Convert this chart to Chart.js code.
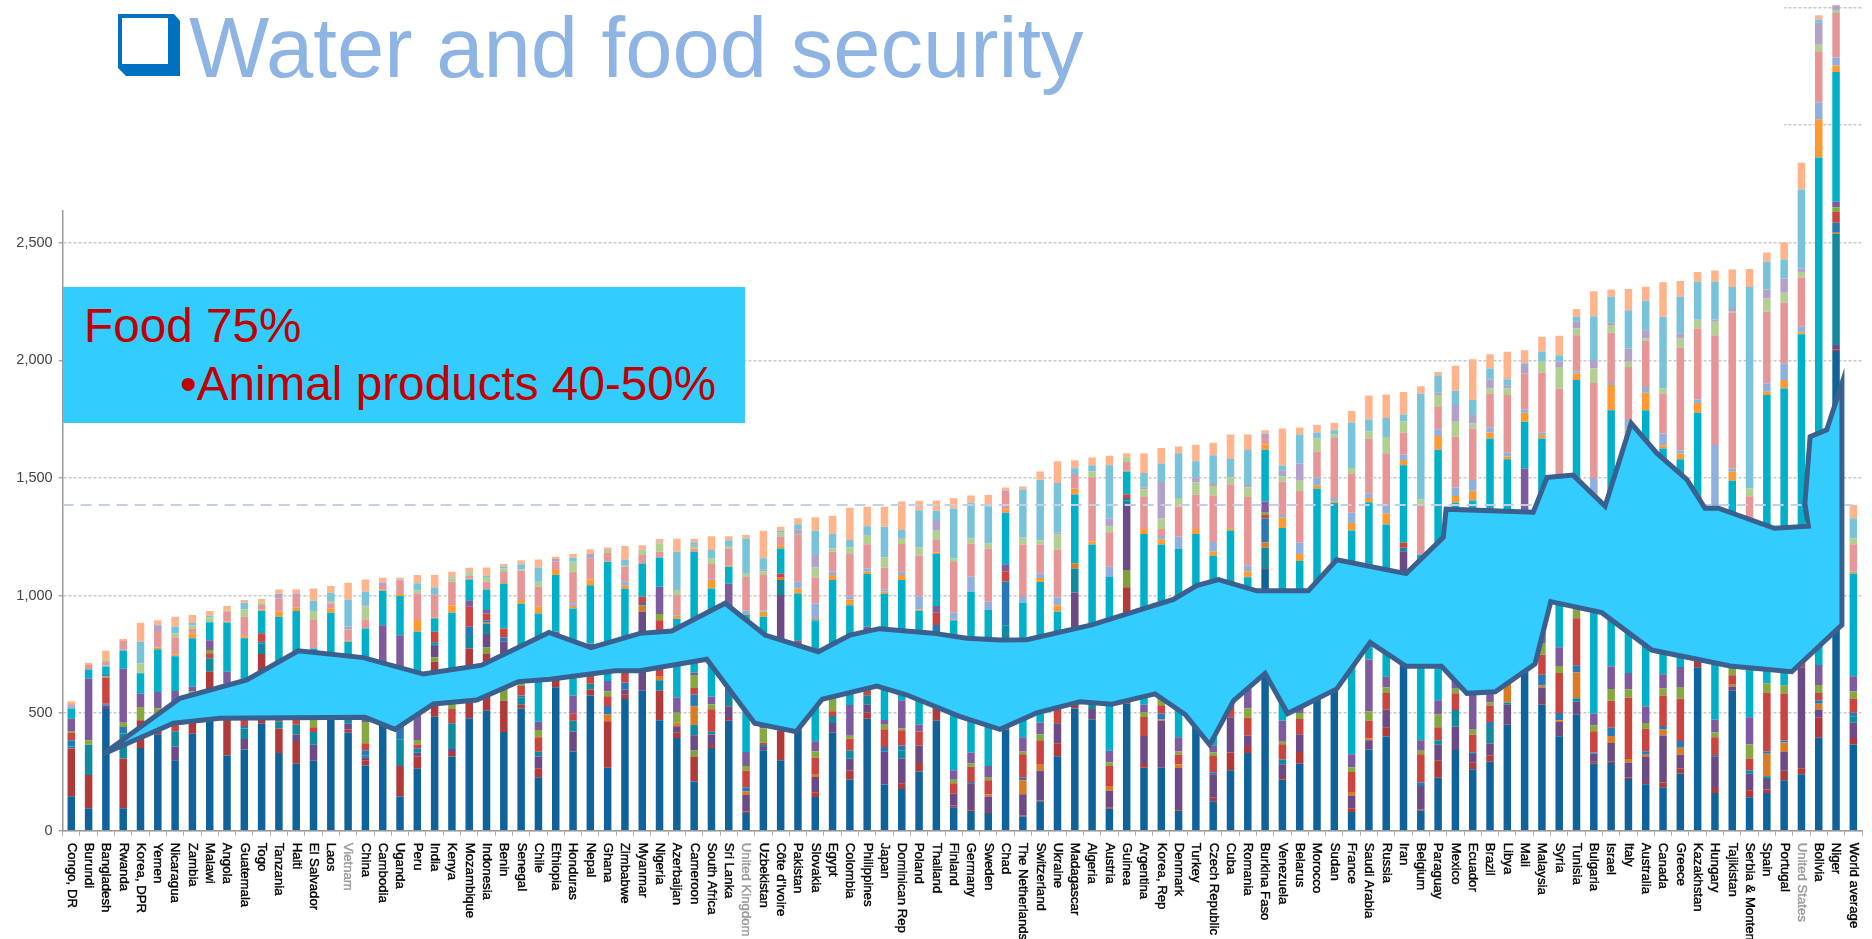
<!DOCTYPE html>
<html>
<head>
<meta charset="utf-8">
<title>Water and food security</title>
<script src="https://cdn.jsdelivr.net/npm/chart.js@4"></script>
<style>
  html, body { margin: 0; padding: 0; background: #fff; overflow: hidden; }
  #wrap { position: relative; width: 1872px; height: 939px; overflow: hidden; font-family: "Liberation Sans", Arial, sans-serif; }
  #chart { position: absolute; left: 0; top: 0; filter: blur(0.6px); }
  #title { position: absolute; left: 189px; top: -1px; font-size: 85px; line-height: 98px; color: #8eb4e3; white-space: nowrap; }
  #bullet { position: absolute; left: 118px; top: 14px; }
  #box { position: absolute; left: 63px; top: 287px; width: 682px; height: 136px; background: #33ccff; color: #c00000; font-size: 47.7px; }
  #box div { position: absolute; white-space: nowrap; line-height: 54px; }
</style>
</head>
<body>
<div id="wrap">
  <canvas id="chart" width="1872" height="939"></canvas>
  <svg id="bullet" width="62" height="62" viewBox="0 0 62 62">
    <path d="M0 0H56L62 7V62H8L0 54Z" fill="#0070c0"/>
    <rect x="4" y="4" width="46" height="46" fill="#fff"/>
  </svg>
  <div id="title">Water and food security</div>
  <div id="box">
    <div style="left:21px;top:12px">Food 75%</div>
    <div style="left:117px;top:70px">•Animal products 40-50%</div>
  </div>
</div>
<script>
const countries = ['Congo, DR','Burundi','Bangladesh','Rwanda','Korea, DPR','Yemen','Nicaragua','Zambia','Malawi','Angola',
  'Guatemala','Togo','Tanzania','Haiti','El Salvador','Laos','Vietnam','China','Cambodia','Uganda',
  'Peru','India','Kenya','Mozambique','Indonesia','Benin','Senegal','Chile','Ethiopia','Honduras',
  'Nepal','Ghana','Zimbabwe','Myanmar','Nigeria','Azerbaijan','Cameroon','South Africa','Sri Lanka','United Kingdom',
  'Uzbekistan',"Côte d'Ivoire",'Pakistan','Slovakia','Egypt','Colombia','Philippines','Japan','Dominican Rep','Poland',
  'Thailand','Finland','Germany','Sweden','Chad','The Netherlands','Switzerland','Ukraine','Madagascar','Algeria',
  'Austria','Guinea','Argentina','Korea, Rep','Denmark','Turkey','Czech Republic','Cuba','Romania','Burkina Faso',
  'Venezuela','Belarus','Morocco','Sudan','France','Saudi Arabia','Russia','Iran','Belgium','Paraguay',
  'Mexico','Ecuador','Brazil','Libya','Mali','Malaysia','Syria','Tunisia','Bulgaria','Israel',
  'Italy','Australia','Canada','Greece','Kazakhstan','Hungary','Tajikistan','Serbia & Montenegro','Spain','Portugal',
  'United States','Bolivia','Niger','World average'];
const greyLabels = ['Vietnam','United Kingdom','United States'];
const yTickValues = [0, 500, 1000, 1500, 2000, 2500, 3000, 3500];

// stacked segments, bottom to top, named after their colour
const darkBlue = [147,95,517,95,352,410,300,412,480,320,
  345,455,330,285,297,500,418,277,500,145,
  263,485,315,478,510,420,520,227,610,337,
  575,268,560,595,470,394,209,352,467,75,
  342,300,430,143,416,218,476,196,177,252,
  467,100,85,75,430,60,125,317,520,472,
  93,540,268,268,85,490,125,257,330,1108,
  218,285,560,600,80,345,400,700,85,225,
  343,261,293,450,690,535,402,493,285,288,
  220,198,185,243,695,160,595,142,160,215,
  240,395,2040,367];
const darkRed = [203,142,0,212,118,70,0,70,196,160,
  0,296,105,92,0,80,12,23,90,130,
  52,233,20,297,241,133,15,38,40,0,
  25,197,20,0,125,25,107,12,12,7,
  0,125,100,20,0,38,25,0,25,40,
  50,7,7,5,120,5,5,55,300,0,
  7,495,20,0,7,100,15,75,30,5,
  10,50,100,150,15,0,40,200,5,75,
  0,28,28,0,150,8,0,0,8,5,
  5,5,20,20,30,22,0,30,15,40,
  25,85,5,27];
const darkGreen = [0,0,0,0,0,0,0,0,0,0,
  0,0,0,0,0,0,0,0,0,0,
  0,19,0,0,28,100,0,0,0,0,
  0,0,0,0,0,0,25,0,0,0,
  0,60,0,0,0,0,0,0,0,0,
  0,0,0,0,0,0,0,0,30,0,
  0,73,0,0,0,0,0,0,0,0,
  0,0,0,0,0,0,0,0,0,0,
  0,0,0,0,0,0,0,0,0,0,
  0,0,0,0,0,0,0,0,0,0,
  0,0,0,0];
const darkPurple = [0,0,15,0,0,0,58,0,0,0,
  45,0,0,32,68,0,25,12,0,0,
  16,48,12,0,57,150,0,50,40,85,
  0,0,20,336,0,25,65,45,50,70,
  14,517,0,65,42,50,35,140,105,70,
  60,50,110,65,100,90,125,85,163,45,
  70,277,115,200,175,120,100,150,45,0,
  55,75,100,150,55,40,75,288,100,65,
  99,37,50,85,200,65,60,55,35,80,
  65,110,200,60,200,135,18,70,45,80,
  430,35,20,65];
const darkTeal = [8,128,3,106,0,15,65,50,57,80,
  45,45,30,42,55,50,40,8,60,112,
  12,8,110,57,45,0,30,21,20,45,
  25,0,0,0,45,0,45,12,40,0,
  8,64,80,0,30,35,40,0,35,0,
  100,0,0,0,224,0,0,0,102,100,
  0,20,0,0,0,0,0,0,0,90,
  20,0,0,0,0,0,0,15,0,20,
  71,0,70,10,0,2,0,15,5,0,
  0,0,0,0,0,5,0,15,12,0,
  0,0,474,25];
const darkOrange = [0,0,0,0,0,0,0,0,0,0,
  0,0,0,0,0,0,0,0,0,0,
  0,0,0,0,5,0,0,0,0,0,
  0,30,0,28,15,15,78,0,0,15,
  0,10,0,10,0,0,0,0,0,0,
  0,0,0,10,0,60,25,0,22,0,
  20,0,0,5,15,0,0,0,0,22,
  0,0,0,0,15,8,0,0,0,0,
  0,0,0,80,0,8,8,110,0,30,
  15,10,25,30,0,0,8,0,95,40,
  0,25,7,0];
const blue = [27,0,5,28,0,0,0,0,0,0,
  10,7,0,0,0,0,0,22,10,60,
  8,8,0,35,8,18,10,0,0,0,
  0,35,30,9,0,0,50,0,100,18,
  0,0,0,0,0,0,0,20,20,0,
  198,0,5,0,186,10,0,0,0,0,
  0,10,0,25,0,0,8,0,0,102,
  0,0,0,0,0,0,0,0,15,0,
  0,8,21,0,0,45,30,30,0,35,
  0,15,15,28,0,0,0,0,10,8,
  0,15,39,18];
const red = [31,0,110,0,0,0,60,40,21,50,
  80,36,60,50,20,40,50,30,20,50,
  15,45,60,85,30,39,40,61,40,30,
  50,42,60,27,240,0,28,95,100,70,
  10,16,80,72,20,50,100,75,65,60,
  52,45,65,60,43,100,105,100,0,100,
  85,15,80,35,42,100,70,100,75,15,
  65,65,100,100,85,75,70,22,120,55,
  71,74,70,0,200,85,170,200,90,115,
  260,95,130,180,200,75,40,50,250,200,
  200,30,46,60];
const green = [8,20,6,18,56,25,25,20,14,16,
  40,0,40,0,50,20,40,90,20,30,
  20,0,40,0,0,0,30,31,20,0,
  40,20,40,0,26,42,55,21,100,20,
  61,0,40,28,100,13,60,20,8,0,
  0,15,15,10,0,12,25,60,0,60,
  15,0,22,30,13,40,15,60,40,10,
  10,25,60,50,20,40,25,0,15,55,
  20,21,14,0,100,50,30,100,25,50,
  35,25,30,50,100,20,80,60,40,35,
  100,35,20,30];
const purple = [52,262,6,230,56,70,86,20,42,50,
  82,0,100,100,100,30,60,60,174,304,
  110,0,126,28,14,0,50,35,76,78,
  80,45,95,0,116,65,10,33,182,60,
  100,0,80,42,160,130,131,20,120,30,
  28,40,45,50,30,60,50,100,0,104,
  50,0,30,100,60,190,30,200,80,48,
  90,100,122,95,55,220,45,0,45,60,
  80,155,60,0,200,100,80,100,50,95,
  70,70,60,85,200,55,100,115,0,0,
  200,85,23,65];
const cyan = [44,38,35,75,87,181,148,206,76,209,
  171,96,245,333,185,207,158,338,146,167,
  350,57,244,88,88,191,271,461,241,370,
  249,506,205,141,125,335,514,460,71,582,
  375,108,199,515,298,425,224,538,511,483,
  221,638,684,663,219,572,597,215,292,336,
  739,97,726,554,803,221,806,434,478,220,
  819,547,412,248,951,668,647,329,788,1065,
  710,820,1062,954,199,770,520,813,922,1090,
  1010,1260,960,883,352,905,647,700,1225,1262,
  916,2157,552,437];
const orange = [0,0,0,0,0,8,6,20,0,5,
  7,5,22,14,0,18,5,0,5,8,
  50,3,32,3,2,6,15,28,21,10,
  24,3,14,2,0,15,3,36,6,4,
  21,14,21,5,21,24,10,8,21,5,
  6,4,0,0,15,0,17,27,25,12,
  0,3,22,22,0,22,19,10,25,22,
  45,29,15,8,32,19,47,22,0,58,
  29,41,25,11,38,14,0,28,15,107,
  25,74,14,25,42,0,38,5,14,36,
  8,163,28,7];
const lightBlue = [7,0,5,5,0,0,0,0,0,0,
  0,0,0,0,0,0,0,0,0,0,
  0,0,0,0,0,0,0,0,0,10,
  0,0,14,0,0,5,0,3,0,15,
  5,0,28,66,15,14,14,10,14,57,
  0,28,64,35,0,29,19,32,0,0,
  43,0,0,14,50,0,40,0,24,0,
  10,48,33,14,44,18,36,22,0,29,
  36,46,21,17,14,10,0,8,65,9,
  41,25,50,14,14,263,14,0,36,71,
  24,71,33,3];
const pink = [8,20,15,38,0,70,75,20,0,43,
  85,20,55,50,121,22,45,38,20,59,
  113,95,99,12,30,43,125,85,35,136,
  90,35,64,34,24,81,10,65,72,143,
  151,36,199,111,84,179,103,92,118,172,
  54,216,141,227,73,219,124,205,58,274,
  147,38,139,30,128,146,197,187,292,28,
  142,220,110,255,165,235,220,94,212,95,
  216,219,145,245,153,255,580,155,404,213,
  226,196,170,436,302,467,662,235,304,258,
  209,218,190,114];
const lightGreen = [0,0,10,0,42,0,15,15,20,2,
  31,10,0,0,38,6,5,56,0,0,
  13,0,15,10,21,15,5,21,0,42,
  0,8,5,21,35,21,12,24,10,14,
  15,20,5,42,15,28,39,43,25,35,
  39,14,21,21,0,30,18,63,0,24,
  25,20,30,44,37,51,41,30,40,0,
  23,44,56,15,25,30,69,49,23,50,
  64,21,21,28,0,47,92,28,61,33,
  22,10,21,39,33,57,5,33,57,42,
  24,28,12,25];
const lavender = [4,0,0,0,0,25,0,0,0,0,
  0,0,20,10,0,0,10,5,10,3,
  0,4,0,0,0,0,0,0,12,0,
  20,3,0,2,4,0,5,0,0,0,
  8,0,20,53,0,0,0,0,0,0,
  42,0,0,0,5,0,0,8,5,0,
  33,2,8,156,0,22,12,0,15,18,
  23,73,0,0,0,0,0,0,0,10,
  71,36,38,14,36,0,22,29,36,10,
  56,35,0,20,6,10,15,0,38,61,
  14,93,21,0];
const lightCyan = [0,0,0,0,92,0,30,10,8,0,
  28,0,0,0,44,39,115,57,0,0,
  30,29,5,5,5,8,22,61,0,18,
  0,0,25,0,0,163,10,35,25,149,
  48,6,21,103,60,32,38,130,34,159,
  43,213,152,159,0,204,257,211,24,27,
  227,0,61,78,190,69,118,77,145,0,
  23,124,25,18,194,50,81,29,450,75,
  61,64,47,25,7,43,28,21,186,110,
  163,125,305,157,160,160,90,857,118,81,
  336,14,0,85];
const peach = [11,9,38,8,81,21,42,34,20,20,
  12,15,19,19,52,28,71,52,20,7,
  35,53,23,20,35,11,17,34,10,15,
  19,12,58,19,15,55,15,59,17,15,
  117,16,25,58,78,137,82,85,122,40,
  44,43,31,47,14,12,35,93,34,33,
  40,15,84,66,29,70,53,105,66,15,
  157,29,32,32,48,102,100,95,32,13,
  106,174,61,117,56,63,82,33,107,31,
  90,60,147,67,42,48,74,76,39,72,
  114,18,0,57];

const stackSeries = [
  ['darkBlue', darkBlue, '#10639a'], ['darkRed', darkRed, '#b03a3a'], ['darkGreen', darkGreen, '#7fa13c'],
  ['darkPurple', darkPurple, '#6b4a86'], ['darkTeal', darkTeal, '#0f8a9e'], ['darkOrange', darkOrange, '#db7a25'],
  ['blue', blue, '#2878b5'], ['red', red, '#cb4540'], ['green', green, '#86a93f'],
  ['purple', purple, '#7d5b9e'], ['cyan', cyan, '#00afc8'], ['orange', orange, '#ff9a33'],
  ['lightBlue', lightBlue, '#8fb0dc'], ['pink', pink, '#e69696'], ['lightGreen', lightGreen, '#b0cf90'],
  ['lavender', lavender, '#b2a1c9'], ['lightCyan', lightCyan, '#78c3d9'], ['peach', peach, '#ffb48c']
];

const worldAverage = 1385;

// hand drawn band over the bars: bar position (may fall between bars) and value, clockwise
const bandPos = [1.85,6.28,10.14,13.12,16.88,20.35,23.72,27.61,30.04,32.87,34.7,37.79,40.1,43.18,45.01,46.7,49.8,51.76,53.68,55.22,
  58.98,63.7,65.05,66.3,68.52,71.5,73.14,77.15,79.3,79.46,84.5,85.3,86.8,88.65,90.16,91.64,93.37,94.43,95.2,98.44,
  100.4,100.2,100.5,101.46,102.34,
  102.34,99.44,95.88,91.35,88.46,85.51,84.6,82.3,80.66,79.2,77.15,75.07,73.14,70.3,69,67.17,65.8,64.38,62.64,60.14,
  58.3,55.8,53.68,51.37,48.3,46.56,43.4,41.9,39.5,36.73,32.87,31.43,27.67,25.84,23.43,20.93,18.71,16.98,8.6,5.9,1.85];
const bandVal = [326,563,641,765,736,666,704,843,778,839,849,967,832,761,832,859,840,818,811,812,
  875,983,1042,1068,1020,1020,1152,1093,1247,1367,1354,1502,1512,1380,1732,1605,1494,1371,1371,1286,
  1295,1392,1675,1704,1902,
  875,676,700,768,927,974,709,591,584,699,699,801,603,498,669,552,365,494,582,538,
  548,501,431,485,577,615,559,421,457,729,680,680,644,634,556,539,431,482,478,457,326];

const yMax = 3532;

const datasets = stackSeries.map(([name, values, color]) => ({
  label: name, type: 'bar', data: values, backgroundColor: color, grouped: false, maxBarThickness: 7.5, order: 3, xAxisID: 'x', yAxisID: 'y'
}));
datasets.push({
  label: 'World average', type: 'line', xAxisID: 'xPos', yAxisID: 'yLine', order: 2,
  data: [{x: -0.5, y: worldAverage}, {x: 103, y: worldAverage}],
  borderColor: '#c3cfe6', borderWidth: 2, borderDash: [11, 7], pointRadius: 0, fill: false
});
datasets.push({
  label: 'band', type: 'line', xAxisID: 'xPos', yAxisID: 'yLine', order: 1,
  data: bandPos.map((p, i) => ({x: p, y: bandVal[i]})),
  borderColor: '#3a6090', borderWidth: 5, borderJoinStyle: 'miter', pointRadius: 0, tension: 0, fill: false
});

const slidePlugin = {
  id: 'slidePlugin',
  // the pasted chart is covered with white above the axis top, except on the right
  beforeDatasetsDraw(chart) {
    const ctx = chart.ctx;
    ctx.save();
    ctx.fillStyle = '#fff';
    ctx.fillRect(0, 0, chart.scales.xPos.getPixelForValue(99), chart.scales.y.getPixelForValue(2639));
    ctx.restore();
  },
  // the band's fill, under its outline
  beforeDatasetDraw(chart, args) {
    if (chart.data.datasets[args.index].label !== 'band') return;
    const pts = args.meta.data;
    const ctx = chart.ctx;
    ctx.save();
    ctx.beginPath();
    pts.forEach((p, i) => i ? ctx.lineTo(p.x, p.y) : ctx.moveTo(p.x, p.y));
    ctx.closePath();
    ctx.fillStyle = '#33ccff';
    ctx.fill();
    ctx.restore();
  },
  // country labels read downwards from the axis
  afterDraw(chart) {
    const ctx = chart.ctx;
    const sx = chart.scales.x;
    ctx.save();
    ctx.font = '13.2px "Liberation Sans", Arial, sans-serif';
    ctx.textAlign = 'left';
    ctx.textBaseline = 'middle';
    ctx.lineWidth = 0.4;
    countries.forEach((name, i) => {
      ctx.save();
      ctx.translate(sx.getPixelForValue(i), chart.scales.y.bottom + 12);
      ctx.rotate(Math.PI / 2);
      ctx.fillStyle = ctx.strokeStyle = greyLabels.includes(name) ? '#999' : '#000';
      ctx.fillText(name, 0, 0);
      ctx.strokeText(name, 0, 0);
      ctx.restore();
    });
    ctx.restore();
  }
};

new Chart(document.getElementById('chart').getContext('2d'), {
  data: { labels: countries, datasets },
  plugins: [slidePlugin],
  options: {
    responsive: false,
    animation: false,
    devicePixelRatio: 1,
    layout: { padding: { right: 10 } },
    plugins: { legend: { display: false }, tooltip: { enabled: false } },
    scales: {
      x: {
        stacked: true,
        afterFit(s) { s.height = 939 - 830.7; s.paddingLeft = 0; s.paddingRight = 0; },
        ticks: { display: false, autoSkip: false },
        grid: { offset: true, drawOnChartArea: false, tickLength: 5, color: '#aaa' },
        border: { color: '#999', width: 1.5 }
      },
      xPos: { type: 'linear', display: false, min: -0.5, max: 103.5 },
      y: {
        stacked: true,
        min: 0,
        max: yMax,
        afterBuildTicks(s) { s.ticks = yTickValues.map(value => ({value})); },
        afterFit(s) { s.width = 62.65; s.paddingTop = 0; s.paddingBottom = 0; },
        ticks: {
          padding: 6,
          color: '#444',
          font: { family: '"Liberation Sans", Arial, sans-serif', size: 14.5 },
          callback: v => v <= 2500 ? v.toLocaleString('en-US') : ''
        },
        grid: { color: '#c8c8c8', lineWidth: 1.5, tickLength: 4, tickColor: '#aaa' },
        border: { color: '#999', width: 1.5, dash: [3, 2] }
      },
      yLine: { display: false, min: 0, max: yMax }
    }
  }
});
</script>
</body>
</html>
